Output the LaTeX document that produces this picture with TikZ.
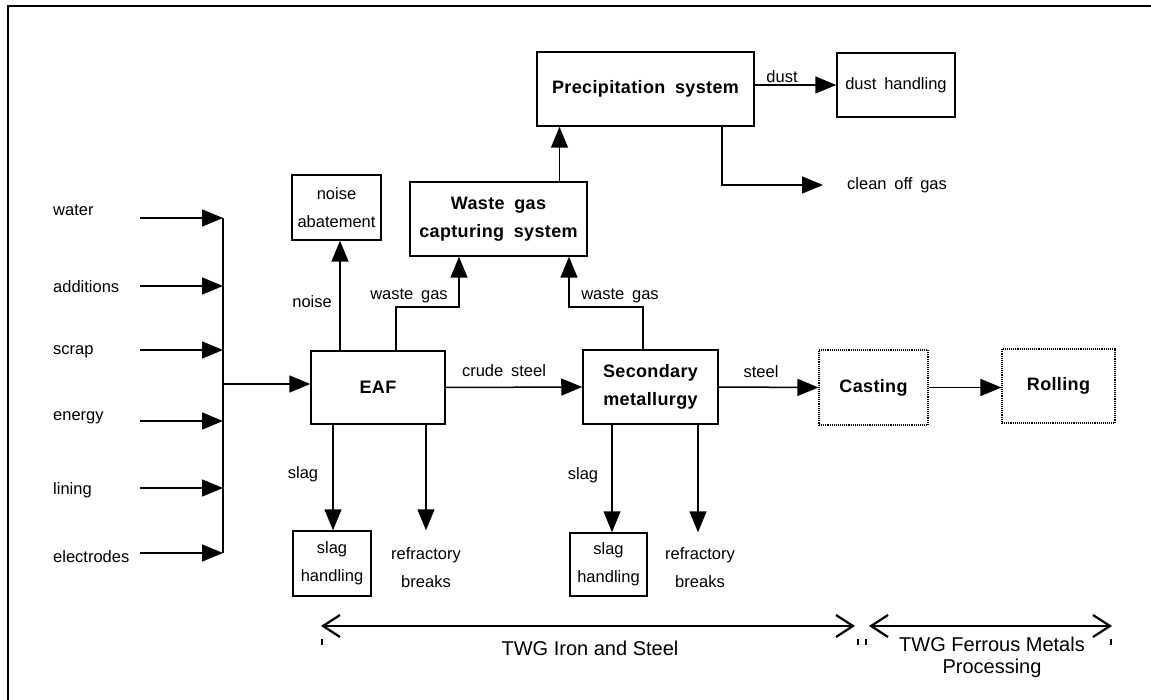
\documentclass[tikz,border=0pt]{standalone}
\usepackage{fontspec}
\setmainfont[WordSpace=1.7]{Liberation Sans}
\newfontfamily\boldfam[WordSpace=1.8,LetterSpace=2]{Liberation Sans}
\newfontfamily\twgfont{Liberation Sans}
\usetikzlibrary{arrows.meta,calc}
\begin{document}
\begin{tikzpicture}[x=1pt,y=-1pt,
 lbl/.style={font=\fontsize{16.5}{28}\selectfont, inner sep=0pt, align=center},
 box/.style={draw, line width=1.5pt, inner sep=0pt, align=center},
 boldbox/.style={box, font=\boldfam\bfseries\fontsize{18}{28}\selectfont},
 smallbox/.style={box, font=\fontsize{16.5}{28}\selectfont},
 dotbox/.style={boldbox, line width=1.1pt, densely dotted},
 arr/.style={line width=1.5pt, -{Triangle[length=21pt,width=17pt]}},
 ln/.style={line width=1.5pt},
 dbl/.style={line width=1.6pt, {Straight Barb[length=17pt,width=22pt,line width=2.2pt]}-{Straight Barb[length=17pt,width=22pt,line width=2.2pt]}},
 tick/.style={line width=1.2pt},
 twg/.style={font=\twgfont\fontsize{20}{22}\selectfont, inner sep=0pt, align=center}
]
\useasboundingbox (0,0) rectangle (1151,700);
\draw[line width=1.6pt] (8,700) -- (8,6) -- (1151,6);

% boxes
\node[boldbox, minimum width=217pt, minimum height=74pt] (prec) at (645.5,89) {Precipitation system};
\node[smallbox, minimum width=118pt, minimum height=64pt] (dust) at (896,85) {dust handling};
\node[smallbox, minimum width=89pt, minimum height=65pt] (noise) at (336.5,207.5) {noise\\abatement};
\node[boldbox, minimum width=177pt, minimum height=74pt] (wg) at (498.5,219) {Waste gas\\capturing system};
\node[boldbox, minimum width=134pt, minimum height=73pt] (eaf) at (378,387.5) {EAF};
\node[boldbox, minimum width=135pt, minimum height=74pt] (sec) at (650.5,387) {Secondary\\metallurgy};
\node[dotbox, minimum width=109pt, minimum height=75pt] (cast) at (873.5,387.5) {Casting};
\node[dotbox, minimum width=113pt, minimum height=74pt] (roll) at (1058.5,386) {Rolling};
\node[smallbox, minimum width=78pt, minimum height=65pt] (slag1) at (332,563.5) {slag\\handling};
\node[smallbox, minimum width=77pt, minimum height=63pt] (slag2) at (608.5,564.5) {slag\\handling};
\node[lbl] (refr1) at (426,568) {refractory\\breaks};
\node[lbl] (refr2) at (700,568) {refractory\\breaks};
\node[lbl, anchor=west] (clean) at (847,185) {clean off gas};

% inputs
\foreach \n/\t/\ly/\ay in {water/water/210/218, add/additions/287/286, scrap/scrap/352/350, energy/energy/418/421, lining/lining/490/488, elec/electrodes/557/553} {
  \node[lbl, anchor=west] (\n) at (53,\ly) {\t};
  \coordinate (\n-s) at (140,\ay);
  \coordinate (\n-b) at (223,\ay);
  \draw[arr] (\n-s) -- (\n-b);
}
\draw[ln] (water-b) -- (elec-b);
\coordinate (bm) at (224,384);
\draw[arr] (bm) -- (bm -| eaf.west);

% connectors
\draw[arr] ([xshift=-38pt]eaf.north) -- ([xshift=-38pt]eaf.north |- noise.south);
\draw[arr] ([xshift=18pt]eaf.north) -- ++(0,-43) -| ([xshift=-39.5pt]wg.south);
\draw[arr] ([xshift=-7.5pt]sec.north) -- ++(0,-42) -| ([xshift=70.5pt]wg.south);
\draw[arr] ([xshift=61pt]wg.north) -- ([xshift=61pt]wg.north |- prec.south);
\draw[arr] (dust.west -| prec.east) -- (dust.west);
\draw[arr] ([xshift=76.5pt]prec.south) |- ([xshift=-24pt]clean.west);
\draw[arr] (eaf.east) -- (sec.west);
\draw[arr] (sec.east) -- (cast.west);
\draw[arr] (cast.east) -- (cast.east -| roll.west);
\draw[arr] ([xshift=-45pt]eaf.south) -- ([xshift=-45pt]eaf.south |- slag1.north);
\draw[arr] ([xshift=48pt]eaf.south) -- ([xshift=48pt]eaf.south |- slag1.north);
\draw[arr] ([xshift=-38.5pt]sec.south) -- ([xshift=-38.5pt]sec.south |- slag2.north);
\draw[arr] ([xshift=47.5pt]sec.south) -- ([xshift=47.5pt]sec.south |- slag2.north);

% connector labels
\node[lbl, anchor=east] (lnoise) at (332,302) {noise};
\node[lbl] (lwg1) at (409,296) {waste gas};
\node[lbl] (lwg2) at (620,296) {waste gas};
\node[lbl] (lcrude) at (504,371) {crude steel};
\node[lbl] (lsteel) at (761,372) {steel};
\node[lbl] (ldust) at (782,77) {dust};
\node[lbl] (lslag1) at (303,474) {slag};
\node[lbl] (lslag2) at (583,475) {slag};

% bottom ranges
\coordinate (t1a) at (321,626);
\coordinate (t1b) at (855,626);
\coordinate (t2a) at (869,626);
\coordinate (t2b) at (1112,626);
\draw[dbl] (t1a) -- (t1b);
\draw[dbl] (t2a) -- (t2b);
\node[twg] (twg1) at (590,648) {TWG Iron and Steel};
\node[twg] (twg2) at (992,657) {TWG Ferrous Metals\\Processing};
\draw[tick] (322,639) -- (322,645);
\draw[tick] (858,639) -- (858,645);
\draw[tick] (866,639) -- (866,645);
\draw[tick] (1111,639) -- (1111,645);
\end{tikzpicture}
\end{document}
